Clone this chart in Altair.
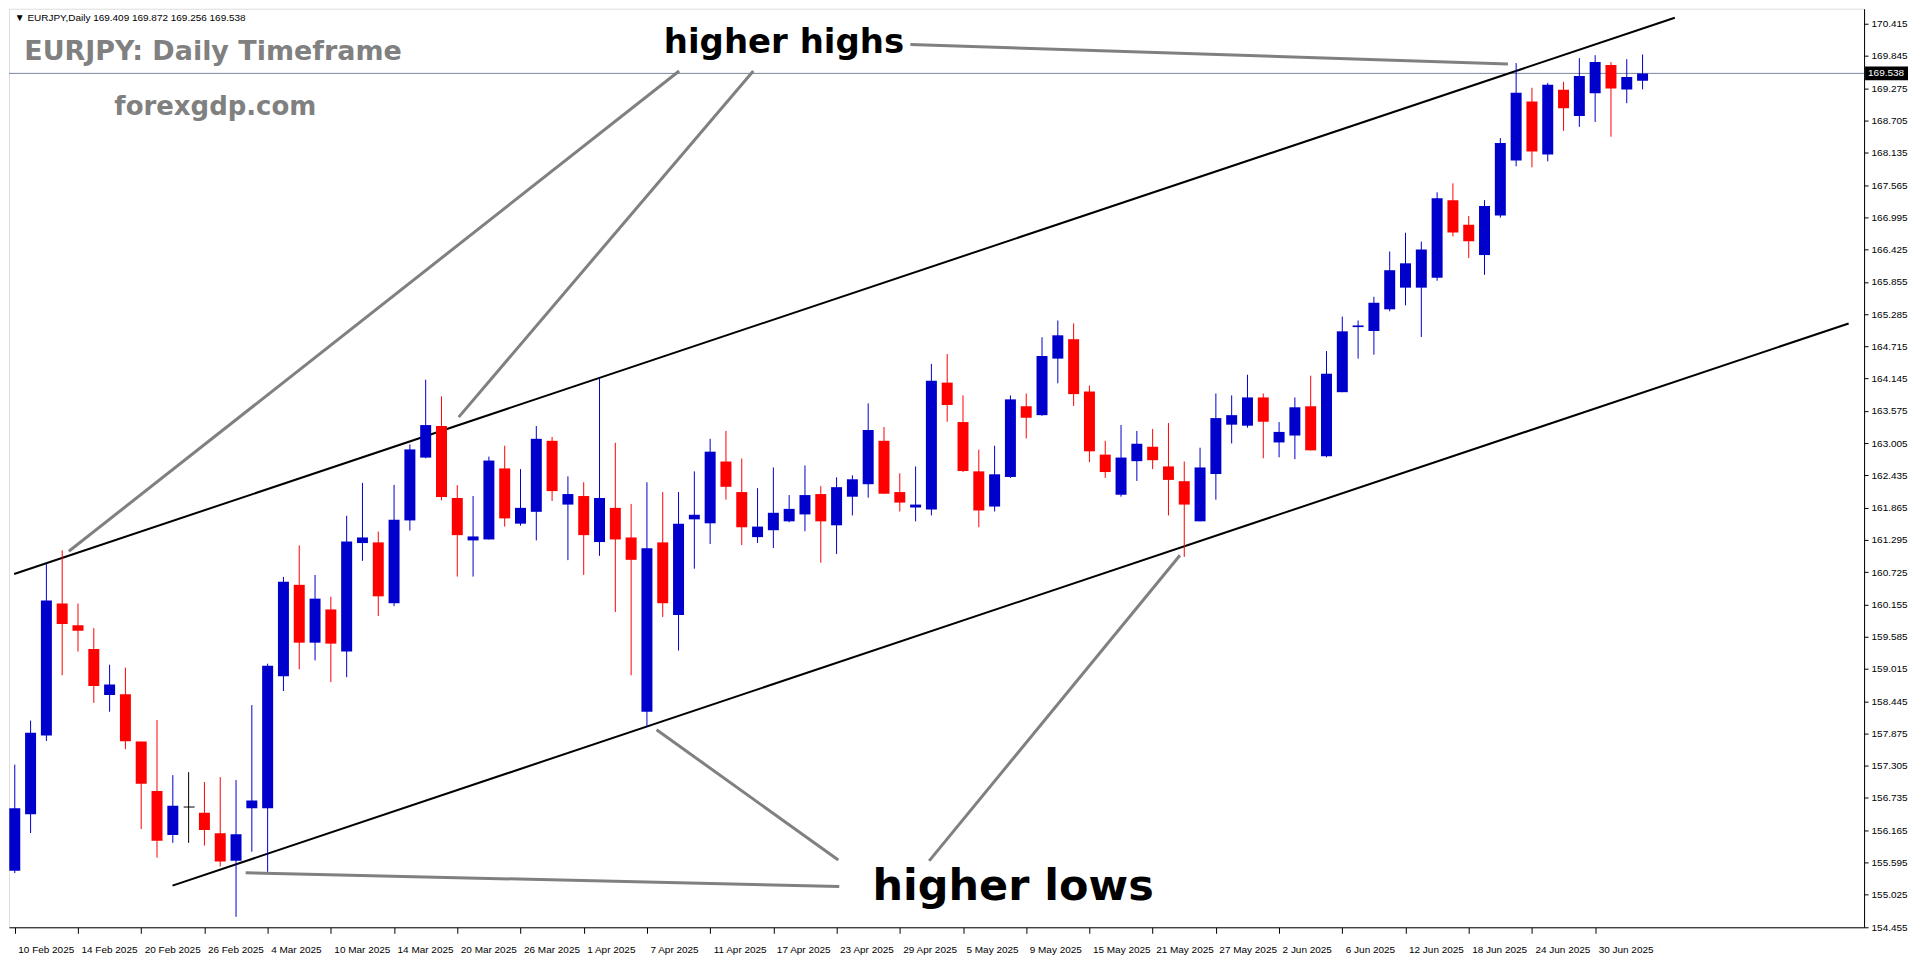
import altair as alt
import pandas as pd

# ---------------- data ----------------
opens = [155.448, 156.447, 157.841, 160.170, 159.787, 159.369, 158.556, 158.567, 157.731, 156.860,
         156.081, 156.575, 156.476, 156.110, 155.628, 156.552, 156.552, 158.887, 160.501, 159.479,
         160.066, 159.322, 161.239, 161.251, 160.176, 161.639, 162.749, 163.307, 162.035, 161.286,
         161.303, 162.558, 161.582, 161.791, 163.046, 161.919, 162.070, 161.257, 161.861, 161.338,
         158.260, 161.251, 159.967, 161.658, 161.588, 162.680, 162.140, 161.344, 161.466, 161.623,
         161.745, 162.105, 161.553, 162.058, 162.279, 163.046, 162.140, 161.867, 161.832, 164.074,
         163.377, 162.506, 161.884, 162.407, 163.656, 163.499, 164.498, 164.841, 163.917, 162.802,
         162.093, 162.686, 162.941, 162.593, 162.332, 161.623, 162.459, 163.331, 163.313, 163.812,
         163.017, 163.139, 163.656, 162.773, 163.905, 165.055, 164.986, 165.369, 165.752, 165.752,
         165.927, 167.297, 166.862, 166.328, 167.025, 168.000, 169.040, 168.105, 169.249, 168.785,
         169.185, 169.685, 169.255, 169.409]
highs = [157.324, 158.103, 160.879, 161.111, 160.170, 159.735, 159.090, 159.038, 157.731, 158.114,
         157.138, 157.191, 157.016, 157.104, 157.051, 158.376, 159.107, 160.641, 161.198, 160.676,
         160.292, 161.721, 162.302, 161.442, 162.267, 162.981, 164.126, 163.830, 162.262, 162.070,
         162.767, 162.959, 162.546, 163.307, 163.115, 162.418, 162.314, 164.161, 163.011, 161.931,
         162.314, 162.140, 162.140, 162.506, 163.081, 163.220, 162.732, 162.209, 162.575, 162.087,
         162.610, 162.244, 162.401, 162.436, 163.708, 163.290, 162.471, 162.593, 164.405, 164.579,
         163.848, 162.889, 162.959, 163.848, 163.882, 164.876, 165.172, 165.120, 164.022, 163.046,
         163.325, 163.220, 163.255, 163.360, 162.680, 162.924, 163.882, 163.848, 164.213, 163.882,
         163.377, 163.812, 164.196, 164.631, 165.241, 165.172, 165.590, 166.391, 166.722, 166.566,
         167.437, 167.594, 167.019, 167.298, 168.395, 169.720, 169.284, 169.371, 169.389, 169.807,
         169.859, 169.737, 169.789, 169.872]
lows = [155.408, 156.116, 157.742, 158.904, 159.322, 158.416, 158.259, 157.597, 156.186, 155.681,
        155.942, 155.942, 155.895, 155.524, 154.635, 155.785, 155.431, 158.625, 159.009, 159.166,
        158.782, 158.869, 160.925, 159.950, 160.124, 161.460, 162.737, 161.995, 160.647, 160.647,
        161.303, 161.530, 161.547, 161.286, 161.983, 160.937, 160.676, 161.013, 160.020, 158.904,
        157.998, 159.933, 159.340, 160.786, 161.222, 162.006, 161.204, 161.239, 161.152, 161.605,
        161.448, 160.891, 161.048, 161.727, 162.041, 162.111, 161.797, 161.623, 161.727, 163.383,
        162.494, 161.518, 161.797, 162.390, 163.087, 163.487, 164.062, 163.662, 162.668, 162.390,
        162.059, 162.337, 162.546, 161.727, 160.996, 161.623, 162.006, 162.999, 163.278, 162.738,
        162.755, 162.721, 162.877, 162.755, 163.905, 164.498, 164.568, 165.334, 165.439, 164.881,
        165.874, 166.658, 166.275, 165.979, 166.990, 167.896, 167.878, 167.983, 168.523, 168.593,
        168.680, 168.419, 169.011, 169.256]
closes = [156.552, 157.888, 160.223, 159.810, 159.688, 158.712, 158.741, 157.737, 156.987, 155.977,
          156.598, 156.575, 156.168, 155.611, 156.093, 156.691, 159.073, 160.554, 159.479, 160.257,
          159.462, 161.268, 161.338, 160.298, 161.651, 162.894, 163.324, 162.052, 161.379, 161.356,
          162.697, 161.675, 161.861, 163.081, 162.157, 162.105, 161.379, 162.035, 161.303, 160.943,
          161.146, 160.176, 161.582, 161.739, 162.854, 162.233, 161.518, 161.530, 161.774, 161.843,
          162.087, 161.623, 162.227, 162.366, 163.237, 162.111, 161.954, 161.919, 164.109, 163.679,
          162.512, 161.815, 162.454, 163.778, 163.453, 164.544, 164.910, 163.871, 162.860, 162.494,
          162.750, 162.994, 162.703, 162.355, 161.919, 162.575, 163.447, 163.499, 163.812, 163.383,
          163.203, 163.638, 162.877, 164.231, 164.980, 165.084, 165.485, 166.060, 166.182, 166.426,
          167.332, 166.728, 166.572, 167.193, 168.308, 169.197, 168.157, 169.336, 168.924, 169.493,
          169.737, 169.272, 169.476, 169.538]

date_labels = ["10 Feb 2025", "14 Feb 2025", "20 Feb 2025", "26 Feb 2025", "4 Mar 2025",
               "10 Mar 2025", "14 Mar 2025", "20 Mar 2025", "26 Mar 2025", "1 Apr 2025",
               "7 Apr 2025", "11 Apr 2025", "17 Apr 2025", "23 Apr 2025", "29 Apr 2025",
               "5 May 2025", "9 May 2025", "15 May 2025", "21 May 2025", "27 May 2025",
               "2 Jun 2025", "6 Jun 2025", "12 Jun 2025", "18 Jun 2025", "24 Jun 2025",
               "30 Jun 2025"]
date_tick_bars = [0, 4, 8, 12, 16, 20, 24, 28, 32, 36, 40, 44, 48, 52, 56, 60, 64, 68, 72, 76,
                  80, 84, 88, 92, 96, 100]

price_ticks = [154.455, 155.025, 155.595, 156.165, 156.735, 157.305, 157.875, 158.445, 159.015,
               159.585, 160.155, 160.725, 161.295, 161.865, 162.435, 163.005, 163.575, 164.145,
               164.715, 165.285, 165.855, 166.425, 166.995, 167.565, 168.135, 168.705, 169.275,
               169.845, 170.415]

# channel lines (bar index, price)
channel_x1 = [-0.04, 9.98]
channel_p1 = [160.693, 155.187]
channel_x2 = [105.04, 116.04]
channel_p2 = [170.521, 165.119]

# grey pointer lines (bar index, price)
pointer_x1 = [56.67, 42.04, 46.73, 14.61, 40.61, 73.73]
pointer_p1 = [170.050, 169.580, 169.580, 155.414, 157.940, 161.024]
pointer_x2 = [94.48, 3.42, 28.09, 52.17, 52.11, 57.86]
pointer_p2 = [169.702, 161.094, 163.464, 155.170, 155.640, 155.623]

note_hh = {"label": "higher highs", "i": 48.67, "price": 170.068}
note_hl = {"label": "higher lows", "i": 63.17, "price": 155.170}

header_text = "\u25BC EURJPY,Daily  169.409 169.872 169.256 169.538"

# ---------------- chart ----------------
W, H = 1858, 920
XDOM = [-0.05, 116.7]
YDOM = [154.45, 170.68]
BLUE, RED = "#0000CC", "#FF0000"
GREY = "#808080"

df = pd.DataFrame({"i": list(range(len(opens))), "open": opens, "high": highs,
                   "low": lows, "close": closes})
df["dir"] = ["up" if c > o else ("down" if c < o else "flat") for o, c in zip(opens, closes)]

label_arr = "[" + ",".join("'" + d + "'" for d in date_labels) + "]"
xscale = alt.Scale(domain=XDOM, nice=False, zero=False)
yscale = alt.Scale(domain=YDOM, nice=False, zero=False)
xaxis = alt.Axis(values=date_tick_bars, labelExpr=label_arr + "[round(datum.value/4)]",
                 labelAlign="left", labelOffset=3, labelPadding=11, tickSize=6,
                 tickColor="black", domainColor="black", labelColor="black",
                 labelFont="Liberation Sans", labelFontSize=10, grid=False, title=None,
                 labelFlush=False, labelOverlap=False)
yaxis = alt.Axis(orient="right", values=price_ticks, format=".3f", tickSize=4, labelPadding=3,
                 tickColor="black", domainColor="black", labelColor="black",
                 labelFont="Liberation Sans", labelFontSize=10, grid=False, title=None,
                 labelFlush=False, labelOverlap=False)


def X(f):
    return alt.X(f, type="quantitative", scale=xscale, axis=xaxis)


def Y(f):
    return alt.Y(f, type="quantitative", scale=yscale, axis=yaxis)


color = alt.Color("dir:N", scale=alt.Scale(domain=["up", "down", "flat"],
                                           range=[BLUE, RED, "#000000"]), legend=None)

base = alt.Chart(df)
wicks = base.mark_rule(strokeWidth=1, clip=True).encode(
    x=X("i"), y=Y("low"), y2="high", color=color)
bodies = base.transform_filter("datum.dir != 'flat'").mark_bar(size=11, clip=True).encode(
    x=X("i"), y=Y("open"), y2="close", color=color)
dojis = base.transform_filter("datum.dir == 'flat'").mark_rule(
    strokeWidth=1, xOffset=-5, x2Offset=6, clip=True).encode(
    x=X("i"), x2="i", y=Y("open"), color=color)

chan_df = pd.DataFrame({"x1": channel_x1, "p1": channel_p1, "x2": channel_x2, "p2": channel_p2})
channel = alt.Chart(chan_df).mark_rule(color="black", strokeWidth=2, clip=True).encode(
    x=X("x1"), x2="x2", y=Y("p1"), y2="p2")

ptr_df = pd.DataFrame({"x1": pointer_x1, "p1": pointer_p1, "x2": pointer_x2, "p2": pointer_p2})
pointers = alt.Chart(ptr_df).mark_rule(color=GREY, strokeWidth=3, clip=True).encode(
    x=X("x1"), x2="x2", y=Y("p1"), y2="p2")

last_df = pd.DataFrame({"price": [closes[-1]], "txt": [f"{closes[-1]:.3f}"]})
price_line = alt.Chart(last_df).mark_rule(color="#778899", strokeWidth=1).encode(y=Y("price"))
price_box = alt.Chart(last_df).mark_rect(color="black", yOffset=-7, y2Offset=7).encode(
    x=alt.value(W + 1), x2=alt.value(W + 44), y=Y("price"), y2="price")
price_txt = alt.Chart(last_df).mark_text(color="white", align="left", baseline="middle",
                                          font="Liberation Sans", fontSize=10).encode(
    x=alt.value(W + 4), y=Y("price"), text="txt:N")

hh = alt.Chart(pd.DataFrame([note_hh])).mark_text(
    font="DejaVu Sans", fontWeight="bold", fontSize=34, color="black",
    align="center", baseline="middle").encode(x=X("i"), y=Y("price"), text="label:N")
hl = alt.Chart(pd.DataFrame([note_hl])).mark_text(
    font="DejaVu Sans", fontWeight="bold", fontSize=43, color="black",
    align="center", baseline="middle").encode(x=X("i"), y=Y("price"), text="label:N")

title_df = pd.DataFrame({"label": ["EURJPY: Daily Timeframe"], "i": [0.6], "price": [169.911]})
title_txt = alt.Chart(title_df).mark_text(font="DejaVu Sans", fontWeight="bold", fontSize=27,
                                          color=GREY, align="left", baseline="middle").encode(
    x=X("i"), y=Y("price"), text="label:N")
site_df = pd.DataFrame({"label": ["forexgdp.com"], "i": [6.3], "price": [168.935]})
site_txt = alt.Chart(site_df).mark_text(font="DejaVu Sans", fontWeight="bold", fontSize=26,
                                        color=GREY, align="left", baseline="middle").encode(
    x=X("i"), y=Y("price"), text="label:N")
head_df = pd.DataFrame({"label": [header_text], "i": [0.0], "price": [170.521]})
head_txt = alt.Chart(head_df).mark_text(font="Liberation Sans", fontSize=10, color="black",
                                        align="left", baseline="middle").encode(
    x=X("i"), y=Y("price"), text="label:N")

chart = alt.layer(
    price_line, channel, pointers, wicks, bodies, dojis, hh, hl, title_txt, site_txt, head_txt,
    price_box, price_txt
).properties(
    width=W, height=H, padding={"left": 0, "top": 0, "right": 0, "bottom": 0}
).configure_view(stroke="black", strokeWidth=1).configure(background="white")

chart.save("out.html", embed_options={"renderer": "svg", "actions": False})
